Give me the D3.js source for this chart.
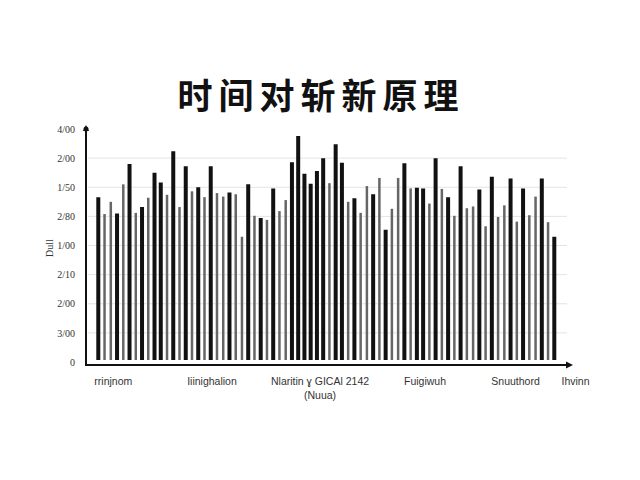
<!DOCTYPE html>
<html><head><meta charset="utf-8">
<script src="https://cdn.jsdelivr.net/npm/d3@7/dist/d3.min.js"></script>
<style>html,body{margin:0;padding:0;background:#fff;}</style>
</head><body><div id="chart"></div>
<script>
const title = "时间对斩新原理";
const yLabel = "Dull";
const yTickValues = [0, 50, 100, 150, 200, 250, 300, 350, 400];
const yTickLabels = ["0", "3/00", "2/00", "2/10", "1/00", "2/80", "1/50", "2/00", "4/00"];
const values = [283,254,275,255,305,340,256,266,282,325,308,287,362,266,336,293,300,283,336,290,
  284,291,288,215,305,251,247,244,298,259,278,343,388,323,306,328,350,307,374,342,
  275,281,256,302,288,316,227,263,316,341,298,299,298,272,350,297,283,251,336,264,
  267,296,233,318,249,269,315,241,298,252,284,315,240,215];
const tones = ["kggkgkgkgk", "kgkgkgkgkg", "gkggkgkgkg", "gkkkkkkgkk", "gkggkgkggk",
  "gkkgkgkgkg", "gkgkggkgkg", "gkgk"].join("");
const catLabels = [["rrinjnom"], ["Iiinighalion"], ["Nlaritin ɣ GICAl  2142", "(Nuua)"], ["Fuigiwuh"], ["Snuuthord"], ["Ihvinn"]];
const catPos = [2.4, 18.2, 35.5, 52.3, 66.8, 76.4];

const W = 640, H = 480;
const svg = d3.select("#chart").append("svg").attr("width", W).attr("height", H);

const x = d3.scaleLinear().domain([0, values.length - 1]).range([98.3, 554.3]);
const y = d3.scaleLinear().domain([0, 400]).range([362, 129]);

svg.append("text").attr("x", 321).attr("y", 109).attr("text-anchor", "middle")
  .attr("font-family", "'Noto Sans CJK SC'").attr("font-weight", 700).attr("font-size", 35)
  .attr("letter-spacing", 6).attr("fill", "#111").text(title);

// gridlines
svg.append("g").selectAll("line").data(yTickValues.slice(1, -1)).join("line")
  .attr("x1", 88).attr("x2", 567).attr("y1", d => y(d)).attr("y2", d => y(d))
  .attr("stroke", "#e4e4e4").attr("stroke-width", 1);

// bars
svg.append("g").selectAll("line").data(values).join("line")
  .attr("x1", (d, i) => x(i)).attr("x2", (d, i) => x(i))
  .attr("y1", y(0) - 2).attr("y2", d => y(d))
  .attr("stroke", (d, i) => tones[i] === "k" ? "#111" : "#666")
  .attr("stroke-width", (d, i) => tones[i] === "k" ? 4 : 2.5);

// y axis
const yAxis = d3.axisLeft(y).tickValues(yTickValues).tickSize(0).tickPadding(11)
  .tickFormat((d, i) => yTickLabels[i]);
const gy = svg.append("g").attr("transform", "translate(86,0)").call(yAxis);
gy.select(".domain").remove();
gy.selectAll("text").attr("font-family", "'Liberation Serif'").attr("font-size", 10).attr("fill", "#333");
svg.append("line").attr("x1", 86).attr("x2", 86).attr("y1", 129).attr("y2", 366)
  .attr("stroke", "#111").attr("stroke-width", 2);
svg.append("path").attr("d", "M86,125 L83,131 L89,131 Z").attr("fill", "#111");
svg.append("circle").attr("cx", 86).attr("cy", 129).attr("r", 2.5).attr("fill", "#111");

// x axis
svg.append("line").attr("x1", 85).attr("x2", 568).attr("y1", 365).attr("y2", 365)
  .attr("stroke", "#111").attr("stroke-width", 2);
svg.append("path").attr("d", "M573,365 L566,361.5 L566,368.5 Z").attr("fill", "#111");

svg.append("text").attr("transform", "translate(53,248) rotate(-90)").attr("text-anchor", "middle")
  .attr("font-family", "'Liberation Serif'").attr("font-size", 10).attr("fill", "#333").text(yLabel);

const gl = svg.append("g").selectAll("text").data(catLabels).join("text")
  .attr("x", (d, i) => x(catPos[i])).attr("y", 385).attr("text-anchor", "middle")
  .attr("font-family", "'Liberation Sans Narrow', 'Liberation Sans'").attr("font-size", 10.5)
  .attr("fill", "#333");
gl.selectAll("tspan").data(d => d).join("tspan")
  .attr("x", function () { return d3.select(this.parentNode).attr("x"); })
  .attr("dy", (d, i) => i === 0 ? 0 : 14).text(d => d);
</script></body></html>
